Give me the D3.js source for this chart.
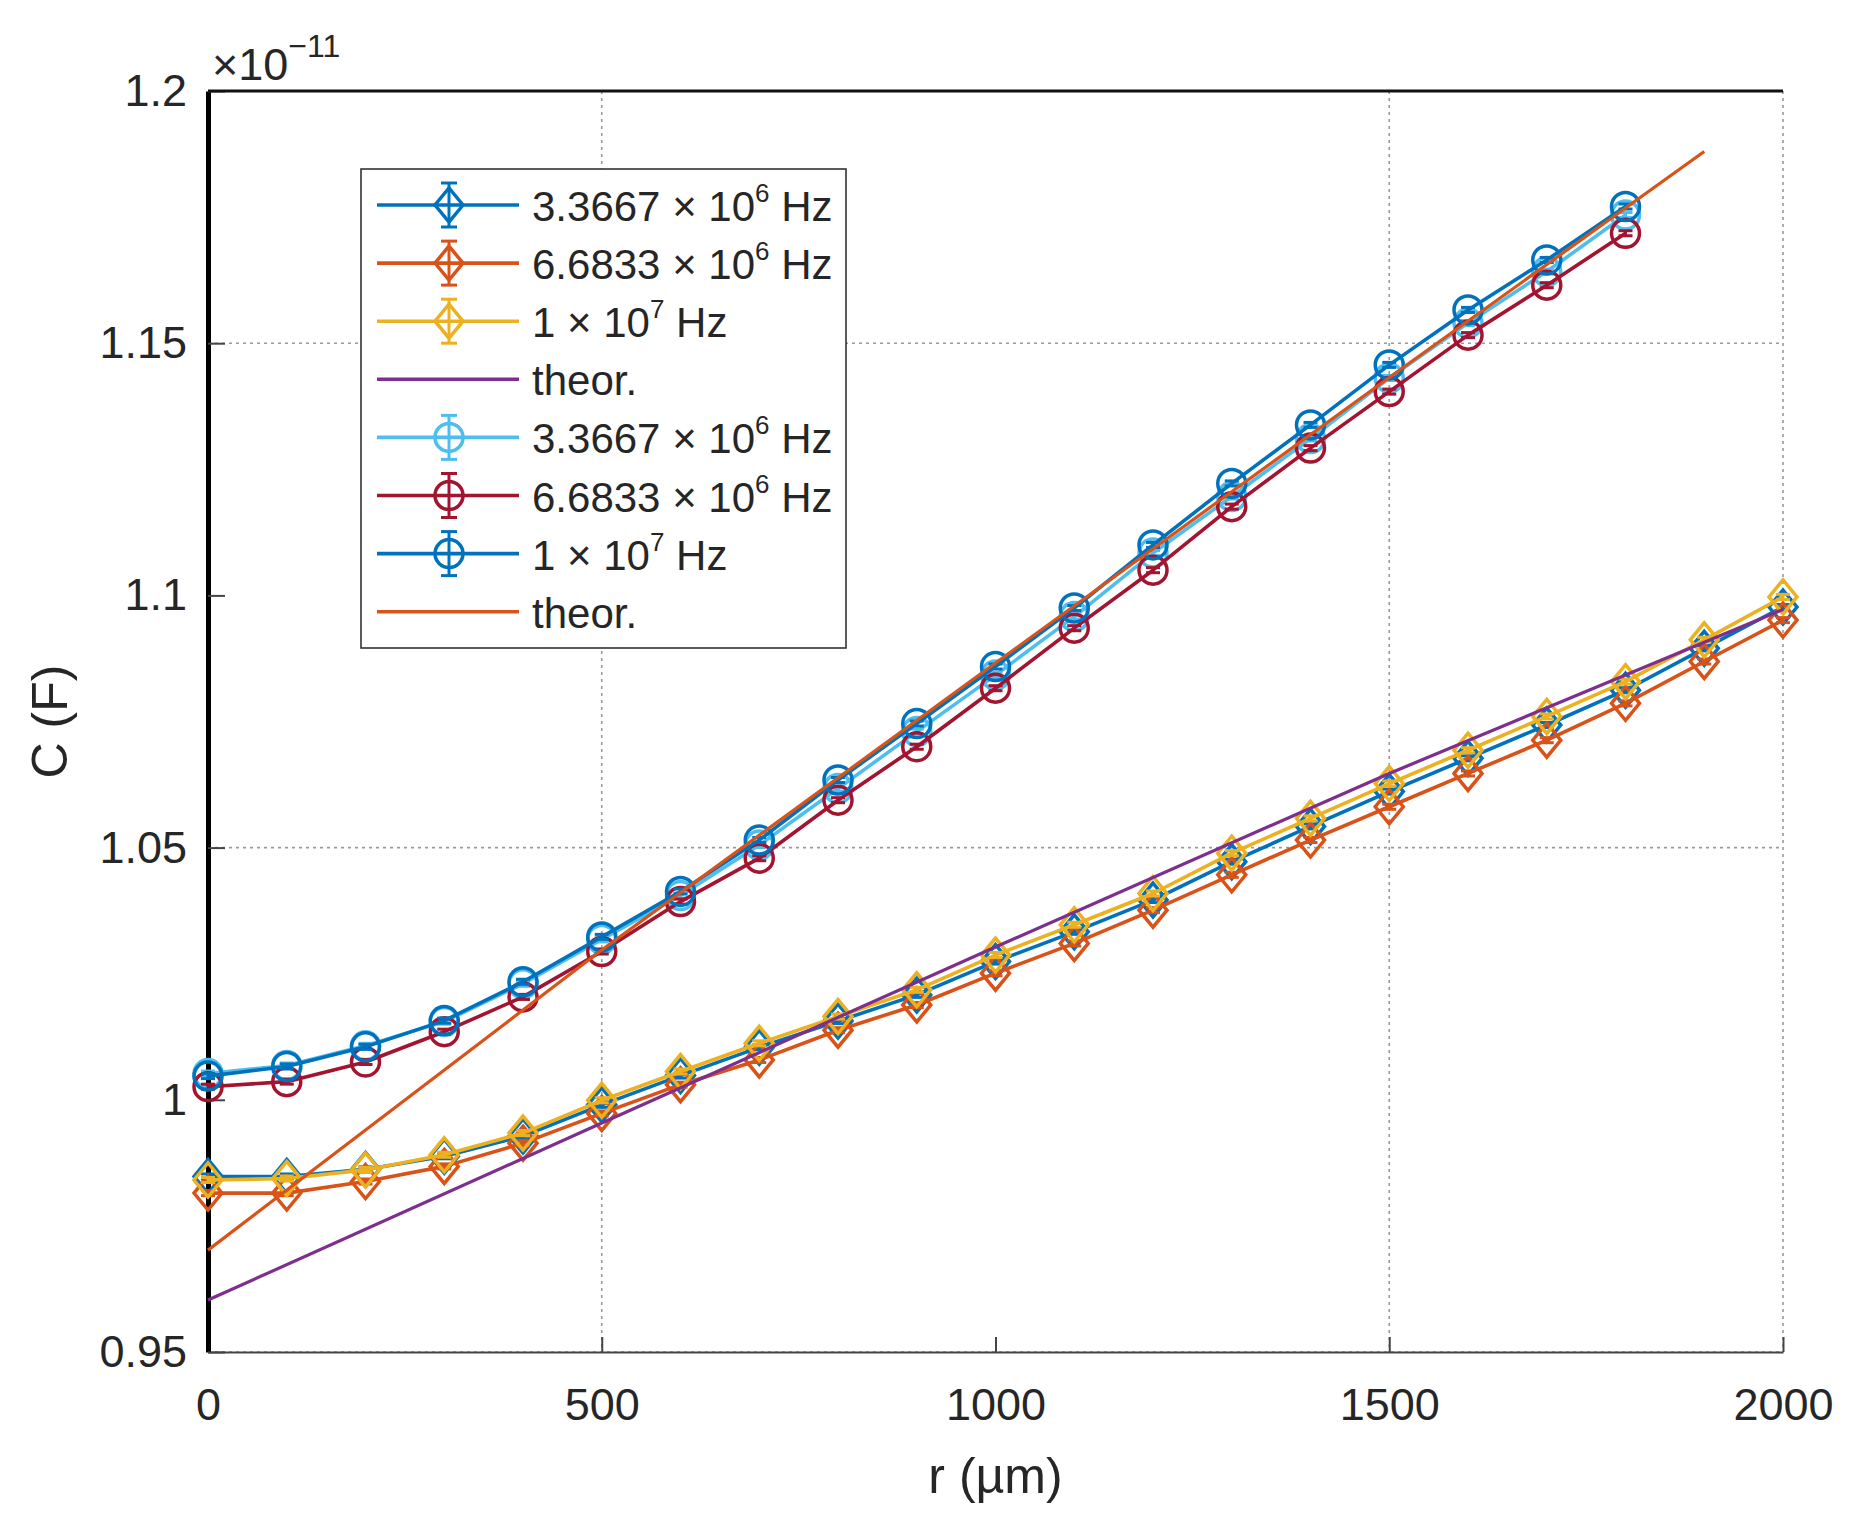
<!DOCTYPE html>
<html>
<head>
<meta charset="utf-8">
<script src="https://cdn.jsdelivr.net/npm/d3@7"></script>
<style>
  body { margin: 0; background: #fff; }
  text { font-family: "Liberation Sans", Arial, Helvetica, sans-serif; fill: #262626; }
</style>
</head>
<body>
<div id="chart"></div>
<script>
// radius positions (µm)
const rUpper = [0, 100, 200, 300, 400, 500, 600, 700, 800, 900, 1000, 1100, 1200, 1300, 1400, 1500, 1600, 1700, 1800];
const rLower = [0, 100, 200, 300, 400, 500, 600, 700, 800, 900, 1000, 1100, 1200, 1300, 1400, 1500, 1600, 1700, 1800, 1900, 2000];

// capacitance, in units of 1e-11 F
// lower group (diamonds)
const lowF1 = [0.9848, 0.9848, 0.9862, 0.9888, 0.9928, 0.9990, 1.0048, 1.0104, 1.0156, 1.0208, 1.0274, 1.0333, 1.0396, 1.0472, 1.0542, 1.0611, 1.0677, 1.0743, 1.0812, 1.0895, 1.0977];
const lowF2 = [0.9815, 0.9815, 0.9838, 0.9868, 0.9914, 0.9973, 1.0030, 1.0079, 1.0138, 1.0188, 1.0251, 1.0310, 1.0376, 1.0446, 1.0515, 1.0581, 1.0647, 1.0713, 1.0786, 1.0869, 1.0951];
const lowF3 = [0.9841, 0.9844, 0.9861, 0.9891, 0.9934, 0.9999, 1.0056, 1.0112, 1.0165, 1.0218, 1.0287, 1.0347, 1.0409, 1.0489, 1.0558, 1.0627, 1.0693, 1.0760, 1.0829, 1.0912, 1.0997];
const lowTheorR = [0, 500, 1000, 1500, 2000];
const lowTheor = [0.9603, 0.9954, 1.0303, 1.0647, 1.0972];

// upper group (circles)
const upF1 = [1.0052, 1.0068, 1.0107, 1.0155, 1.0230, 1.0318, 1.0405, 1.0505, 1.0617, 1.0730, 1.0842, 1.0958, 1.1084, 1.1196, 1.1311, 1.1431, 1.1540, 1.1642, 1.1754];
const upF2 = [1.0026, 1.0036, 1.0075, 1.0135, 1.0204, 1.0294, 1.0393, 1.0479, 1.0594, 1.0700, 1.0816, 1.0935, 1.1050, 1.1176, 1.1292, 1.1404, 1.1516, 1.1615, 1.1718];
const upF3 = [1.0047, 1.0066, 1.0105, 1.0157, 1.0234, 1.0323, 1.0413, 1.0515, 1.0634, 1.0746, 1.0859, 1.0975, 1.1100, 1.1222, 1.1338, 1.1457, 1.1566, 1.1665, 1.1771];
const upTheorR = [0, 500, 1000, 1500, 1900];
const upTheor = [0.9702, 1.0297, 1.0866, 1.1432, 1.1880];

const xTicks = [0, 500, 1000, 1500, 2000];
const yTicks = [0.95, 1, 1.05, 1.1, 1.15, 1.2];
const xGrid = [500, 1500, 2000];
const yGrid = [0.95, 1.05, 1.15];

const legendLabels = [
  ["3.3667 × 10", "6", " Hz"],
  ["6.6833 × 10", "6", " Hz"],
  ["1 × 10", "7", " Hz"],
  ["theor.", "", ""],
  ["3.3667 × 10", "6", " Hz"],
  ["6.6833 × 10", "6", " Hz"],
  ["1 × 10", "7", " Hz"],
  ["theor.", "", ""]
];

// plot order = legend order
const series = [
  { r: rLower, c: lowF1, color: "#0072BD", marker: "diamond", err: 0.0005 },
  { r: rLower, c: lowF2, color: "#D95319", marker: "diamond", err: 0.0005 },
  { r: rLower, c: lowF3, color: "#EDB120", marker: "diamond", err: 0.0005 },
  { r: lowTheorR, c: lowTheor, color: "#7E2F8E", marker: null },
  { r: rUpper, c: upF1, color: "#4DBEEE", marker: "circle", err: 0.0005 },
  { r: rUpper, c: upF2, color: "#A2142F", marker: "circle", err: 0.0005 },
  { r: rUpper, c: upF3, color: "#0072BD", marker: "circle", err: 0.0005 },
  { r: upTheorR, c: upTheor, color: "#D95319", marker: null }
];

const W = 1855, H = 1531;
const PLOT = { LEFT: 208, RIGHT: 1783, TOP: 91, BOTTOM: 1352 };

const svg = d3.select("#chart").append("svg")
  .attr("width", W).attr("height", H);

const x = d3.scaleLinear().domain([0, 2000]).range([PLOT.LEFT, PLOT.RIGHT]);
const y = d3.scaleLinear().domain([0.95, 1.2]).range([PLOT.BOTTOM, PLOT.TOP]);

// grid
const grid = svg.append("g").attr("stroke", "#9a9a9a").attr("stroke-width", 1.6)
  .attr("stroke-dasharray", "3,4");
grid.selectAll(".gx").data(xGrid).enter().append("line")
  .attr("x1", d => x(d)).attr("x2", d => x(d))
  .attr("y1", PLOT.TOP).attr("y2", PLOT.BOTTOM);
grid.selectAll(".gy").data(yGrid).enter().append("line")
  .attr("x1", PLOT.LEFT).attr("x2", PLOT.RIGHT)
  .attr("y1", d => y(d)).attr("y2", d => y(d));

// axes
const xAxis = d3.axisBottom(x).tickValues(xTicks).tickSizeInner(-15).tickSizeOuter(0).tickPadding(36)
  .tickFormat(d3.format("d"));
const gx = svg.append("g").attr("transform", `translate(0,${PLOT.BOTTOM})`).call(xAxis);
gx.select(".domain").attr("stroke", "#444").attr("stroke-width", 2);
gx.selectAll(".tick line").attr("stroke", "#444").attr("stroke-width", 2);
gx.selectAll(".tick text").attr("font-size", 45).attr("fill", "#2a2a2a")
  .attr("font-family", "Liberation Sans, Arial, sans-serif").attr("dy", "0.71em");

const yAxis = d3.axisLeft(y).tickValues(yTicks).tickSizeInner(-17).tickSizeOuter(0).tickPadding(21)
  .tickFormat(d => d3.format("~g")(d));
const gy = svg.append("g").attr("transform", `translate(${PLOT.LEFT},0)`).call(yAxis);
gy.select(".domain").attr("stroke", "#000").attr("stroke-width", 5);
gy.selectAll(".tick line").attr("stroke", "#444").attr("stroke-width", 2);
gy.selectAll(".tick text").attr("font-size", 45).attr("fill", "#2a2a2a")
  .attr("font-family", "Liberation Sans, Arial, sans-serif");

// top border
svg.append("line")
  .attr("x1", PLOT.LEFT).attr("x2", PLOT.RIGHT)
  .attr("y1", PLOT.TOP).attr("y2", PLOT.TOP)
  .attr("stroke", "#111").attr("stroke-width", 3);

// exponent
const ex = svg.append("text").attr("x", 212).attr("y", 80).attr("font-size", 45);
ex.append("tspan").text("×10");
ex.append("tspan").attr("dy", -23).attr("font-size", 32).text("−11");

// axis labels
svg.append("text").attr("x", (PLOT.LEFT + PLOT.RIGHT) / 2).attr("y", 1493)
  .attr("text-anchor", "middle").attr("font-size", 50).attr("fill", "#1a1a1a").text("r (µm)");
svg.append("text").attr("transform", `translate(67,${(PLOT.TOP + PLOT.BOTTOM) / 2}) rotate(-90)`)
  .attr("text-anchor", "middle").attr("font-size", 50).attr("fill", "#1a1a1a").text("C (F)");

// markers
function drawMarker(g, type, cx, cy, color) {
  if (type === "circle") {
    g.append("circle").attr("cx", cx).attr("cy", cy).attr("r", 14)
      .attr("fill", "none").attr("stroke", color).attr("stroke-width", 3.5);
  } else if (type === "diamond") {
    g.append("path")
      .attr("d", `M${cx},${cy - 17}L${cx + 14},${cy}L${cx},${cy + 17}L${cx - 14},${cy}Z`)
      .attr("fill", "none").attr("stroke", color).attr("stroke-width", 3.5);
  }
}

function drawErr(g, cx, y1, y2, color, cap) {
  g.append("line").attr("x1", cx).attr("x2", cx).attr("y1", y1).attr("y2", y2)
    .attr("stroke", color).attr("stroke-width", 3);
  [y1, y2].forEach(yy => g.append("line")
    .attr("x1", cx - cap).attr("x2", cx + cap).attr("y1", yy).attr("y2", yy)
    .attr("stroke", color).attr("stroke-width", 3));
}

const line = d3.line().x(d => x(d[0])).y(d => y(d[1]));

series.forEach(s => {
  const pts = s.r.map((r, i) => [r, s.c[i]]);
  const g = svg.append("g");
  g.append("path").datum(pts).attr("d", line)
    .attr("fill", "none").attr("stroke", s.color)
    .attr("stroke-width", s.marker ? 3.6 : 3.2).attr("stroke-linejoin", "round");
  if (s.marker) {
    pts.forEach(p => {
      drawErr(g, x(p[0]), y(p[1] + s.err), y(p[1] - s.err), s.color, 7);
      drawMarker(g, s.marker, x(p[0]), y(p[1]), s.color);
    });
  }
});

// legend
const LEG = { X: 361, Y: 169, W: 485, H: 479 };
const leg = svg.append("g");
leg.append("rect").attr("x", LEG.X).attr("y", LEG.Y).attr("width", LEG.W).attr("height", LEG.H)
  .attr("fill", "#fff").attr("stroke", "#333").attr("stroke-width", 1.6);

series.forEach((s, i) => {
  const cy = 205 + i * 58.1;
  const g = leg.append("g");
  g.append("line").attr("x1", 377).attr("x2", 519).attr("y1", cy).attr("y2", cy)
    .attr("stroke", s.color).attr("stroke-width", 3.6);
  if (s.marker) {
    drawErr(g, 449, cy - 22, cy + 22, s.color, 8);
    drawMarker(g, s.marker, 449, cy, s.color);
  }
  const lab = legendLabels[i];
  const t = g.append("text").attr("x", 532).attr("y", cy + 16).attr("font-size", 42)
    .attr("fill", "#1a1a1a");
  t.append("tspan").text(lab[0]);
  if (lab[1]) {
    t.append("tspan").attr("dy", -19).attr("font-size", 26).text(lab[1]);
    t.append("tspan").attr("dy", 19).text(lab[2]);
  }
});
</script>
</body>
</html>
